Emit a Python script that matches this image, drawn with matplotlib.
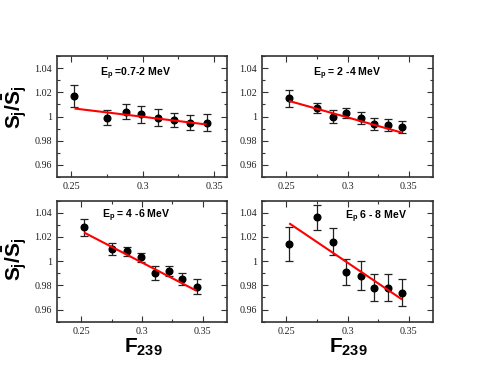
import numpy as np
import matplotlib.pyplot as plt
plt.switch_backend('agg')
from matplotlib.ticker import MultipleLocator, FuncFormatter

plt.rcParams['mathtext.fontset'] = 'custom'
plt.rcParams['mathtext.rm'] = 'Liberation Sans:bold'
plt.rcParams['mathtext.it'] = 'Liberation Sans:bold'
plt.rcParams['mathtext.bf'] = 'Liberation Sans:bold'

# fission fraction of Pu-239 for each data period
f239 = [0.252, 0.275, 0.288, 0.299, 0.311, 0.322, 0.333, 0.345]

titles = [r'$E_p$ =0.7-2 MeV', r'$E_p$ = 2 -4 MeV',
          r'$E_p$ = 4 -6 MeV', r'$E_p$ 6 - 8 MeV']

ratio_07_2 = [1.017, 0.999, 1.004, 1.002, 0.999, 0.997, 0.995, 0.995]
err_07_2 = [0.009, 0.006, 0.006, 0.007, 0.007, 0.006, 0.006, 0.007]
fit_07_2 = [1.0065, 0.9935]

ratio_2_4 = [1.015, 1.007, 1.000, 1.003, 0.999, 0.994, 0.993, 0.991]
err_2_4 = [0.007, 0.004, 0.005, 0.004, 0.005, 0.005, 0.005, 0.005]
fit_2_4 = [1.0126, 0.9868]

ratio_4_6 = [1.028, 1.010, 1.008, 1.003, 0.990, 0.992, 0.985, 0.979]
err_4_6 = [0.007, 0.005, 0.004, 0.004, 0.006, 0.004, 0.005, 0.006]
fit_4_6 = [1.0232, 0.9760]

ratio_6_8 = [1.014, 1.036, 1.016, 0.991, 0.988, 0.978, 0.978, 0.974]
err_6_8 = [0.014, 0.010, 0.011, 0.011, 0.012, 0.011, 0.011, 0.011]
fit_6_8 = [1.0307, 0.9688]

fit_x = [0.253, 0.344]

W, H = 491, 379


def px_rect(l, t, r, b):
    return [l / W, 1 - b / H, (r - l) / W, (b - t) / H]


def panel(ax, y, yerr, fit_y, title, xlim, title_xy):
    ax.errorbar(f239, y, yerr=yerr, fmt='o', color='black', ms=4.8,
                ecolor='#222222', elinewidth=0.9, capsize=3, capthick=0.9,
                zorder=3)
    ax.plot(fit_x, fit_y, color='#ff0000', lw=1.5, zorder=4)
    ax.set_xlim(*xlim)
    ax.set_ylim(0.95, 1.05)
    ax.xaxis.set_major_locator(MultipleLocator(0.05))
    ax.xaxis.set_minor_locator(MultipleLocator(0.025))
    ax.yaxis.set_major_locator(MultipleLocator(0.02))
    ax.yaxis.set_minor_locator(MultipleLocator(0.01))
    fmt = FuncFormatter(lambda v, p: '%g' % round(v, 4))
    ax.xaxis.set_major_formatter(fmt)
    ax.yaxis.set_major_formatter(fmt)
    ax.tick_params(which='both', direction='in', top=True, right=True,
                   color='#333333', width=0.8)
    ax.tick_params(which='major', length=4, pad=3.5)
    ax.tick_params(which='minor', length=2)
    for lab in ax.get_xticklabels() + ax.get_yticklabels():
        lab.set_fontfamily('Liberation Serif')
        lab.set_fontsize(7.3)
        lab.set_color('#222222')
    for sp in ax.spines.values():
        sp.set_linewidth(1.2)
        sp.set_color('#333333')
    fig.text(title_xy[0] / W, 1 - title_xy[1] / H, title, fontsize=7.6,
             ha='left', va='baseline', fontfamily='Liberation Sans',
             fontweight='bold')


fig = plt.figure(figsize=(4.91, 3.79), dpi=100)

ax1 = fig.add_axes(px_rect(57, 56, 227, 177))
panel(ax1, ratio_07_2, err_07_2, fit_07_2, titles[0], (0.24, 0.359), (100, 76))

ax2 = fig.add_axes(px_rect(262, 56, 433, 177))
panel(ax2, ratio_2_4, err_2_4, fit_2_4, titles[1], (0.23, 0.37), (313, 76))

ax3 = fig.add_axes(px_rect(57, 200.5, 227, 321.7))
panel(ax3, ratio_4_6, err_4_6, fit_4_6, titles[2], (0.23, 0.37), (102, 218))

ax4 = fig.add_axes(px_rect(262, 200.5, 433, 321.7))
panel(ax4, ratio_6_8, err_6_8, fit_6_8, titles[3], (0.23, 0.37), (345, 219))

ylab = r'$S_j/\bar{S}_j$'
fig.text(15 / W, 1 - 107 / H, ylab, rotation=90, fontsize=15,
         ha='center', va='center')
fig.text(15 / W, 1 - 259 / H, ylab, rotation=90, fontsize=15,
         ha='center', va='center')

xlab = r'$F_{239}$'
fig.text(143 / W, 1 - 337 / H, xlab, fontsize=15, ha='center', va='top')
fig.text(348 / W, 1 - 337 / H, xlab, fontsize=15, ha='center', va='top')

fig.savefig('out.png', dpi=100)
